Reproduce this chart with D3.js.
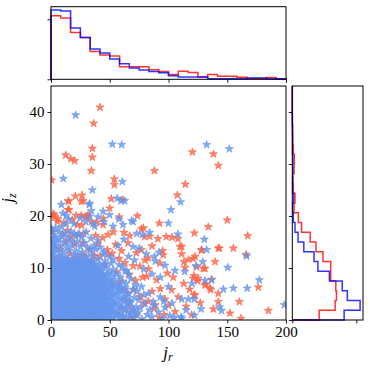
<!DOCTYPE html>
<html>
<head>
<meta charset="utf-8">
<script src="https://cdn.jsdelivr.net/npm/d3@7"></script>
<style>
  body { margin: 0; background: #fff; }
  text { font-family: "Liberation Serif", "DejaVu Serif", serif; fill: #000; }
</style>
</head>
<body>
<svg id="chart" width="370" height="370"></svg>
<script>
// tick values
const jrTicks = [0, 50, 100, 150, 200];
const jzTicks = [0, 10, 20, 30, 40];

// marginal densities, 24 bins over each axis range
const jrHistRed = [0.0212, 0.0204, 0.0156, 0.0139, 0.0093, 0.0081, 0.0078, 0.0042, 0.0042, 0.0042, 0.0032, 0.0026,
  0.0016, 0.0027, 0.0023, 0.0008, 0.0016, 0.0010, 0.0010, 0.0007, 0.0003, 0.0003, 0.0006, 0.0001];
const jrHistBlue = [0.0231, 0.0228, 0.0171, 0.0139, 0.0101, 0.0088, 0.0068, 0.0052, 0.0038, 0.0031, 0.0026, 0.0022,
  0.0012, 0.0008, 0.0008, 0.0008, 0.0002, 0.0002, 0.0002, 0.0002, 0.0004, 0.0004, 0.0002, 0.0002];
const jzHistRed = [0.042, 0.067, 0.069, 0.068, 0.060, 0.060, 0.048, 0.037, 0.028, 0.0145, 0.0094, 0.0027,
  0.0042, 0.0016, 0.0005, 0.0027, 0.0031, 0.0016, 0.0008, 0.0005, 0, 0, 0, 0];
const jzHistBlue = [0.081, 0.106, 0.086, 0.078, 0.058, 0.040, 0.034, 0.018, 0.009, 0.0042, 0.0016, 0.0005,
  0.002, 0.0005, 0.0008, 0.0008, 0.0008, 0.0003, 0.0003, 0.0003, 0.0002, 0, 0, 0];

// scatter points [j_r, j_z]
const redStars = [
  [41.7,40.9],[36.3,37.8],[35.2,33.0],[35.2,31.3],[12.5,31.7],[16.8,31.0],[20.2,30.6],[34.3,28.7],[0.5,26.9],
  [53.9,27.1],[53.9,26.0],[51.3,23.3],[61,23.1],[20.7,23.8],[26.4,24.0],[14.7,22.9],[27.3,22.9],[15.3,21.2],
  [1.9,20.4],[3.2,19.8],[21.3,20.1],[29.8,19.9],[44.5,19.5],[58,19.8],[73.5,20.0],[78.6,17.7],[120.3,32.3],
  [138.2,31.9],[142.4,29.7],[88,28.7],[114.3,26.1],[107.5,24.0],[92.2,18.6],[133.9,17.9],[150,19.2],[122,16.7],
  [167.4,16.2],[128,13.5],[143.3,13.8],[155.2,13.8],[166,12.6],[139.6,11.2],[129.6,9.9],[136.7,7.8],[176.5,6.3],
  [135.9,5.8],[142.4,3.5],[160.3,3.5],[138.2,2.1],[152.3,1.3],[161.7,0.3],[185,1.8],[119.7,1.0],[122.6,12.2],
  [113.2,11.2],[121.1,8.0],[124.8,7.5],[131.9,6.9],[121.7,4.8],[111.2,14.1],[15.0,22.8],[25.8,22.8],[49.9,21.5],
  [14.5,21.2],[25.8,20.1],[31.5,20.2],[2.6,20.2],
  [2,17],[5.4,18.9],[10,16.5],[11,18.7],[14,17.2],[17,16],[22.4,18.3],[23,16.4],[28,16.6],[30.9,19.8],[34.3,18.9],
  [38,16.2],[44.3,18.3],[3,14.2],[8,13.6],[12.5,15],[16,12.8],[20,14.6],[25.8,12.5],[27,14.8],[33,13.6],[34.3,11.3],
  [37,12.4],[40,14.7],[41.7,12.2],[44,15.8],[1.7,11.6],[7,12],[19.5,11.8],[30,12.2],[6,19.4],[18,19.2],[26,18.2],
  [39,18.8],[33.2,10.9],[48.5,16.4],[53,16.9],[62.1,16.8],[67,16.2],[77,17.5],[79.7,16.0],
  [48,13.5],[52,12.8],[55,14.5],[58,11.8],[60,13.3],[63,11],[65.5,14.8],[66,8.8],[70,10.4],[72.6,12.9],[76.9,13.5],
  [80,11.5],[83,9.8],[78,8.2],[72,7.6],[56,9.2],[45.7,10.6],[48.5,12.6],[52.8,6.5],[58.5,7.3],[62.7,5.8],[70,5.8],
  [75.7,4.5],[78.6,3.2],[82.8,3.6],[88.5,2.9],[89.9,7.7],[81.4,8.4],[75.7,10.3],[92.7,10.9],[82.8,11.9],[86,14.2],
  [91,15.6],[95,13.3],[98,16.0],[103,15.9],[108,15.6],[109.8,14.1],[111.2,12.7],[117,11.6],[121,11.8],[124,10.2],
  [114,10.1],[131,9.9],[121.7,8.5],[125.4,8.0],[131,6.7],[135.3,6.1],[142.4,5.1],[102.7,5.8],[108.4,4.4],[122.5,4.8],
  [105.6,1.6],[96.2,1.0],[88,2.2],[128.2,13.4],[142.4,13.8],[84,16.1],[95.5,12.5],[99,9],[93,6],[97,4],[86,5.5],
  [68,2.5],[73,1],[64,3.8],[92,0.5],[100,2.8],[113,7],[104,8.2],[118,5.9],[127,3.3],[115,2.6],[60,2],[67,0.6],
  [10,5],[20,8],[30,3],[15,2],[38,6],[25,9.5],[42,3.5],[5,7.5]
];

const blueStars = [
  [0.8,0.3],[4.1,0.1],[7.6,0.4],[11.0,0.2],[14.3,0.3],[17.9,0.1],[21.2,0.4],[24.6,0.2],[28.1,0.3],[31.4,0.1],[34.8,0.4],
  [38.3,0.2],[41.5,0.3],[45.0,0.1],[48.6,0.4],[53,0.2],[58.5,0.5],[64,0.1],[71,0.4],[77.5,0.2],[86,0.6],[95,0.3],[105,0.5],
  [2.3,1.0],[5.9,1.1],[9.2,0.9],[12.7,1.0],[16.1,1.2],[19.4,0.9],[22.9,1.1],[26.3,1.0],[29.7,0.8],[33.0,1.1],[36.6,1.0],
  [39.9,1.2],[43.3,0.9],[46.8,1.0],[50.2,1.1],[55,1.3],[61,0.9],[67.5,1.2],[74,1.4],[82,1.0],[91.5,1.5],
  [0.6,1.8],[3.9,1.9],[7.4,1.7],[10.8,1.8],[14.2,2.0],[17.6,1.7],[21.0,1.9],[24.4,1.8],[27.8,1.6],[31.2,1.9],[34.7,1.8],
  [38.0,2.0],[41.4,1.7],[44.9,1.8],[48.3,1.9],[52.5,2.1],[57,1.6],[63,2.0],[69.5,1.8],[76,2.3],[84,1.9],[97,2.4],
  [2.0,2.6],[5.5,2.7],[8.9,2.5],[12.3,2.6],[15.7,2.8],[19.1,2.5],[22.6,2.7],[25.9,2.6],[29.4,2.4],[32.8,2.7],[36.2,2.6],
  [39.6,2.8],[43.0,2.5],[46.5,2.6],[50.8,2.8],[54,3.0],[60,2.6],[66,2.9],[72.5,2.5],[80,3.1],[88,2.7],[103,3.2],
  [0.9,3.4],[4.3,3.5],[7.8,3.3],[11.2,3.4],[14.6,3.6],[18.0,3.3],[21.4,3.5],[24.8,3.4],[28.2,3.2],[31.6,3.5],[35.1,3.4],
  [38.5,3.6],[41.9,3.3],[45.3,3.4],[49.5,3.6],[55.5,3.3],[62,3.7],[68,3.4],[75,3.9],[87,3.5],
  [2.6,4.2],[6.0,4.3],[9.5,4.1],[12.9,4.2],[16.3,4.4],[19.7,4.1],[23.1,4.3],[26.5,4.2],[29.9,4.0],[33.3,4.3],[36.8,4.2],
  [40.2,4.4],[43.6,4.1],[47.1,4.2],[52,4.5],[58,4.0],[64.5,4.6],[71,4.3],[79,4.8],[93,4.4],
  [0.7,5.0],[4.1,5.1],[7.5,4.9],[10.9,5.0],[14.4,5.2],[17.8,4.9],[21.2,5.1],[24.6,5.0],[28.0,4.8],[31.4,5.1],[34.9,5.0],
  [38.3,5.2],[41.7,4.9],[45.2,5.0],[49,5.3],[54,4.9],[60.5,5.4],[66,5.0],[73,5.5],[83,5.1],
  [2.2,5.8],[5.7,5.9],[9.1,5.7],[12.5,5.8],[15.9,6.0],[19.3,5.7],[22.8,5.9],[26.2,5.8],[29.6,5.6],[33.0,5.9],[36.4,5.8],
  [39.9,6.0],[43.3,5.7],[46.9,5.8],[51,6.1],[57,5.7],[63,6.2],[70,5.9],[77,6.4],
  [0.9,6.6],[4.4,6.7],[7.8,6.5],[11.2,6.6],[14.7,6.8],[18.1,6.5],[21.5,6.7],[24.9,6.6],[28.3,6.4],[31.8,6.7],[35.2,6.6],
  [38.6,6.8],[42.1,6.5],[46,6.7],[51.5,6.9],[58,6.5],[64,7.0],[72,6.7],
  [2.5,7.4],[5.9,7.5],[9.4,7.3],[12.8,7.4],[16.2,7.6],[19.6,7.3],[23.0,7.5],[26.5,7.4],[29.9,7.2],[33.3,7.5],[36.7,7.4],
  [40.2,7.6],[43.8,7.3],[48,7.5],[54,7.8],[61,7.4],[68,7.9],
  [0.6,8.2],[4.0,8.3],[7.5,8.1],[10.9,8.2],[14.3,8.4],[17.7,8.1],[21.2,8.3],[24.6,8.2],[28.0,8.0],[31.4,8.3],[34.8,8.2],
  [38.3,8.4],[41.8,8.1],[46.5,8.3],[52,8.6],[59,8.2],[66.5,8.7],
  [2.3,9.0],[5.7,9.1],[9.1,8.9],[12.6,9.0],[16.0,9.2],[19.4,8.9],[22.8,9.1],[26.2,9.0],[29.6,8.8],[33.1,9.1],[36.5,9.0],
  [40.0,9.2],[44,9.0],[49.5,9.3],[56,8.9],[63,9.4],
  [0.8,9.8],[4.2,9.9],[7.6,9.7],[11.0,9.8],[14.5,10.0],[17.9,9.7],[21.3,9.9],[24.7,9.8],[28.1,9.6],[31.6,9.9],[35.0,9.8],
  [38.4,10.0],[42.5,9.8],[47,10.1],[53,9.7],[60.5,10.2],
  [2.1,10.6],[5.6,10.7],[9.0,10.5],[12.4,10.6],[15.8,10.8],[19.2,10.5],[22.7,10.7],[26.1,10.6],[29.5,10.4],[32.9,10.7],
  [36.6,10.6],[41,10.8],[45.5,10.5],[51,10.9],[58,10.6],
  [0.7,11.4],[4.1,11.5],[7.5,11.3],[11.0,11.4],[14.4,11.6],[17.8,11.3],[21.2,11.5],[24.6,11.4],[28.1,11.2],[31.5,11.5],
  [36,11.4],[40,11.7],[46,11.3],[53,11.6],
  [2.4,12.3],[7.5,12.4],[12.6,12.2],[19.5,12.5],[24,12.3],[29.8,12.1],[35,12.4],[44.5,12.6],[50,12.2],
  [0.9,13.2],[5.0,13.3],[10.1,13.1],[15.5,13.4],[21.4,13.2],[27,13.0],[33.5,13.3],[38,13.6],[45,13.1],
  [2.8,14.1],[8.0,14.2],[13.5,14.0],[18.3,14.3],[25,14.1],[31,13.9],[36.5,14.3],[42,14.0],
  [0.8,15.0],[5.2,15.1],[11.1,14.9],[16.5,15.2],[22,15.0],[28.5,14.8],[40,15.3],
  [3.5,15.9],[9.4,16.0],[14.8,15.8],[21,16.1],[26,15.9],[34,15.7],
  [1.0,16.8],[6.6,16.9],[12.0,16.7],[17,17.0],[24,16.6],[30,16.9],
  [2.9,0.6],[6.3,0.7],[9.7,0.5],[13.1,0.6],[16.5,0.7],[19.9,0.5],[23.3,0.6],[26.7,0.7],[30.1,0.5],[33.5,0.6],[36.9,0.7],
  [40.3,0.5],[43.7,0.6],[47.2,0.7],[51.5,0.5],[56,0.8],[61.5,0.4],[68,0.7],
  [1.2,1.4],[4.6,1.5],[8.0,1.3],[11.4,1.4],[14.8,1.5],[18.2,1.3],[21.6,1.4],[25.0,1.5],[28.4,1.3],[31.8,1.4],[35.2,1.5],
  [38.6,1.3],[42.0,1.4],[45.5,1.5],[49,1.3],[53.5,1.6],[59,1.2],[65,1.5],[72,1.1],
  [2.7,2.2],[6.1,2.3],[9.5,2.1],[12.9,2.2],[16.3,2.3],[19.7,2.1],[23.1,2.2],[26.5,2.3],[29.9,2.1],[33.3,2.2],[36.7,2.3],
  [40.1,2.1],[43.5,2.2],[47,2.3],[51,2.1],[57.5,2.4],[63.5,2.2],[70,2.0],
  [1.0,3.0],[4.4,3.1],[7.8,2.9],[11.2,3.0],[14.6,3.1],[18.0,2.9],[21.4,3.0],[24.8,3.1],[28.2,2.9],[31.6,3.0],[35.0,3.1],
  [38.4,2.9],[41.8,3.0],[45.2,3.1],[49,2.9],[53,3.2],[58.5,2.8],[65,3.1],
  [2.8,3.8],[6.2,3.9],[9.6,3.7],[13.0,3.8],[16.4,3.9],[19.8,3.7],[23.2,3.8],[26.6,3.9],[30.0,3.7],[33.4,3.8],[36.8,3.9],
  [40.2,3.7],[43.6,3.8],[47.5,3.9],[52.5,3.7],[60,4.0],[67,3.6],
  [1.1,4.6],[4.5,4.7],[7.9,4.5],[11.3,4.6],[14.7,4.7],[18.1,4.5],[21.5,4.6],[24.9,4.7],[28.3,4.5],[31.7,4.6],[35.1,4.7],
  [38.5,4.5],[41.9,4.6],[45.4,4.7],[50,4.5],[56,4.8],[62,4.4],
  [2.6,5.4],[6.0,5.5],[9.4,5.3],[12.8,5.4],[16.2,5.5],[19.6,5.3],[23.0,5.4],[26.4,5.5],[29.8,5.3],[33.2,5.4],[36.6,5.5],
  [40.0,5.3],[43.4,5.4],[47.5,5.5],[52.5,5.3],[58.5,5.6],[65,5.2],
  [1.0,6.2],[4.4,6.3],[7.8,6.1],[11.2,6.2],[14.6,6.3],[18.0,6.1],[21.4,6.2],[24.8,6.3],[28.2,6.1],[31.6,6.2],[35.0,6.3],
  [38.4,6.1],[41.8,6.2],[45,6.3],[49.5,6.1],[55,6.4],[60.5,6.0],
  [2.7,7.0],[6.1,7.1],[9.5,6.9],[12.9,7.0],[16.3,7.1],[19.7,6.9],[23.1,7.0],[26.5,7.1],[29.9,6.9],[33.3,7.0],[36.7,7.1],
  [40.1,6.9],[43.5,7.0],[47,7.1],[51.5,7.2],[57,6.9],
  [1.2,7.8],[4.6,7.9],[8.0,7.7],[11.4,7.8],[14.8,7.9],[18.2,7.7],[21.6,7.8],[25.0,7.9],[28.4,7.7],[31.8,7.8],[35.2,7.9],
  [38.6,7.7],[42.0,7.8],[45.5,7.9],[50,7.7],
  [2.5,8.6],[5.9,8.7],[9.3,8.5],[12.7,8.6],[16.1,8.7],[19.5,8.5],[22.9,8.6],[26.3,8.7],[29.7,8.5],[33.1,8.6],[36.5,8.7],
  [39.9,8.5],[43.5,8.6],[48,8.8],
  [1.0,9.4],[4.4,9.5],[7.8,9.3],[11.2,9.4],[14.6,9.5],[18.0,9.3],[21.4,9.4],[24.8,9.5],[28.2,9.3],[31.6,9.4],[35.0,9.5],
  [38.4,9.3],[42,9.4],
  [2.6,10.2],[6.0,10.3],[9.4,10.1],[12.8,10.2],[16.2,10.3],[19.6,10.1],[23.0,10.2],[26.4,10.3],[29.8,10.1],[33.2,10.2],
  [36.6,10.3],[40,10.1],
  [1.1,11.0],[4.5,11.1],[7.9,10.9],[11.3,11.0],[14.7,11.1],[18.1,10.9],[21.5,11.0],[24.9,11.1],[28.3,10.9],[32,11.0],
  [3,11.8],[9.5,11.9],[15,11.7],[22,11.9],[27,11.8],[1.5,12.8],[4,13.8],[1.2,14.6],[6.5,15.5],[2,15.8],
  [4,17.7],[9,17.9],[19.6,18.5],[29.5,18.9],[37.2,18.0],[52.8,18.0],[61.3,18.3],[13,18.5],[35.8,18.5],[69.8,18.9],
  [0.5,17.5],[20,16.6],[8.8,22.2],[10.2,20.5],[32.9,22.4],[32.9,19.9],[44.3,20.9],[49.9,20.2],[57.9,19.4],[62.7,22.9],
  [21,39.4],[52.2,33.8],[60.2,33.7],[10.5,27.2],[60.7,26.6],[35.2,25],[56.4,23.4],[59.6,22.9],[32.6,22.2],[34.3,21.0],
  [13,20.1],[15,19.4],[25,19.6],[40,19.8],[45,18.9],
  [132.5,33.7],[151.8,32.9],[110.3,22.7],[102.1,21.2],[99.9,18.6],[68.7,19.1],[73,16.6],[78,16.4],[84,16.8],[108,16.5],
  [130.5,15.5],[132.5,13.5],[129.1,11.2],[123.4,10.4],[166.5,12.3],[150.4,10.1],[113.8,9.3],[105.5,9.5],[177.3,7.7],
  [167,6.1],[155.2,6.1],[146.7,5.9],[131,7.6],[136.7,7.7],[120,7.0],[116.9,4.0],[122,4.0],[111.2,4.0],[127.7,2.1],
  [143.3,2.5],[145.2,1.8],[110.7,0.6],[111.2,0.3],[198.6,2.9],[88,12.2],[92,13.0],[75,13.8],[69.8,14.1],[62,15.5],
  [57,14.3],[66,12.2],[79,9.8],[86,8.8],[93,8.2],[89,11.3],[97,10.5],[100,6.4],[96,3.6],[101,0.8],[115,1.9],[122,0.9],
  [81,12.7],[71,11.5],[64.3,9.5]
];

const svg = d3.select("#chart");

const x = d3.scaleLinear().domain([0, 200]).range([51, 286]);
const y = d3.scaleLinear().domain([0, 45]).range([320, 86]);
const yTop = d3.scaleLinear().domain([0, 0.0242]).range([79.3, 6.7]);
const xRight = d3.scaleLinear().domain([0, 0.1105]).range([292.3, 363]);

const nBins = 24;
const jrEdges = d3.range(nBins + 1).map(i => x.domain()[1] * i / nBins);
const jzEdges = d3.range(nBins + 1).map(i => y.domain()[1] * i / nBins);

// main scatter
svg.append("clipPath").attr("id", "clip-main")
  .append("rect").attr("x", 51).attr("y", 86).attr("width", 235).attr("height", 234);

const star = d3.symbol(d3.symbolStar, 20);
const pts = svg.append("g").attr("clip-path", "url(#clip-main)");

function drawStars(data, color) {
  pts.append("g").selectAll("path").data(data).enter().append("path")
    .attr("d", star)
    .attr("transform", d => "translate(" + x(d[0]) + "," + y(d[1]) + ")")
    .attr("fill", color).attr("fill-opacity", 0.8)
    .attr("stroke", color).attr("stroke-opacity", 0.8).attr("stroke-width", 0.8);
}
drawStars(redStars, "tomato");
drawStars(blueStars, "cornflowerblue");

function frame(x0, y0, x1, y1) {
  svg.append("rect").attr("x", x0).attr("y", y0)
    .attr("width", x1 - x0).attr("height", y1 - y0)
    .attr("fill", "none").attr("stroke", "#000").attr("stroke-width", 1);
}

function styleAxis(g, labels) {
  g.select(".domain").remove();
  g.selectAll(".tick line").attr("stroke", "#000").attr("stroke-width", 0.9);
  if (labels) g.selectAll(".tick text").attr("font-size", 15).attr("fill", "#000");
  else g.selectAll(".tick text").remove();
}

svg.append("g").attr("transform", "translate(0,320)")
  .call(d3.axisBottom(x).tickValues(jrTicks).tickSize(3.5).tickPadding(3).tickFormat(d3.format("d")))
  .call(g => styleAxis(g, true));
svg.append("g").attr("transform", "translate(51,0)")
  .call(d3.axisLeft(y).tickValues(jzTicks).tickSize(3.5).tickPadding(3).tickFormat(d3.format("d")))
  .call(g => styleAxis(g, true));
frame(51, 86, 286, 320);

// axis labels
const xl = svg.append("text").attr("x", 168).attr("y", 358).attr("text-anchor", "middle")
  .attr("font-size", 17).attr("font-style", "italic");
xl.append("tspan").text("j");
xl.append("tspan").attr("font-size", 12).attr("dy", 3).text("r");

const yl = svg.append("text").attr("transform", "translate(13,198) rotate(-90)")
  .attr("text-anchor", "middle").attr("font-size", 16).attr("font-style", "italic");
yl.append("tspan").text("j");
yl.append("tspan").attr("font-size", 12).attr("dy", 3).text("z");

// top marginal
function topPath(vals) {
  const p = [[jrEdges[0], 0]];
  vals.forEach((v, i) => { p.push([jrEdges[i], v]); p.push([jrEdges[i + 1], v]); });
  p.push([jrEdges[nBins], 0]);
  return d3.line().x(d => x(d[0])).y(d => yTop(d[1]))(p);
}
svg.append("path").attr("d", topPath(jrHistRed))
  .attr("fill", "none").attr("stroke", "red").attr("stroke-opacity", 0.8).attr("stroke-width", 1.5);
svg.append("path").attr("d", topPath(jrHistBlue))
  .attr("fill", "none").attr("stroke", "blue").attr("stroke-opacity", 0.8).attr("stroke-width", 1.5);
svg.append("g").attr("transform", "translate(0,79.3)")
  .call(d3.axisBottom(x).tickValues(jrTicks).tickSize(3.5))
  .call(g => styleAxis(g, false));
svg.append("g").attr("transform", "translate(51,0)")
  .call(d3.axisLeft(yTop).tickValues([0, 0.02]).tickSize(3.5))
  .call(g => styleAxis(g, false));
frame(51, 6.7, 286, 79.3);

// right marginal
function rightPath(vals) {
  const p = [[0, jzEdges[0]]];
  vals.forEach((v, i) => { p.push([v, jzEdges[i]]); p.push([v, jzEdges[i + 1]]); });
  p.push([0, jzEdges[nBins]]);
  return d3.line().x(d => xRight(d[0])).y(d => y(d[1]))(p);
}
svg.append("path").attr("d", rightPath(jzHistRed))
  .attr("fill", "none").attr("stroke", "red").attr("stroke-opacity", 0.8).attr("stroke-width", 1.5);
svg.append("path").attr("d", rightPath(jzHistBlue))
  .attr("fill", "none").attr("stroke", "blue").attr("stroke-opacity", 0.8).attr("stroke-width", 1.5);
svg.append("g").attr("transform", "translate(0,320)")
  .call(d3.axisBottom(xRight).tickValues([0, 0.1]).tickSize(3.5))
  .call(g => styleAxis(g, false));
svg.append("g").attr("transform", "translate(292.3,0)")
  .call(d3.axisLeft(y).tickValues(jzTicks).tickSize(3.5))
  .call(g => styleAxis(g, false));
frame(292.3, 86, 363, 320);
</script>
</body>
</html>
